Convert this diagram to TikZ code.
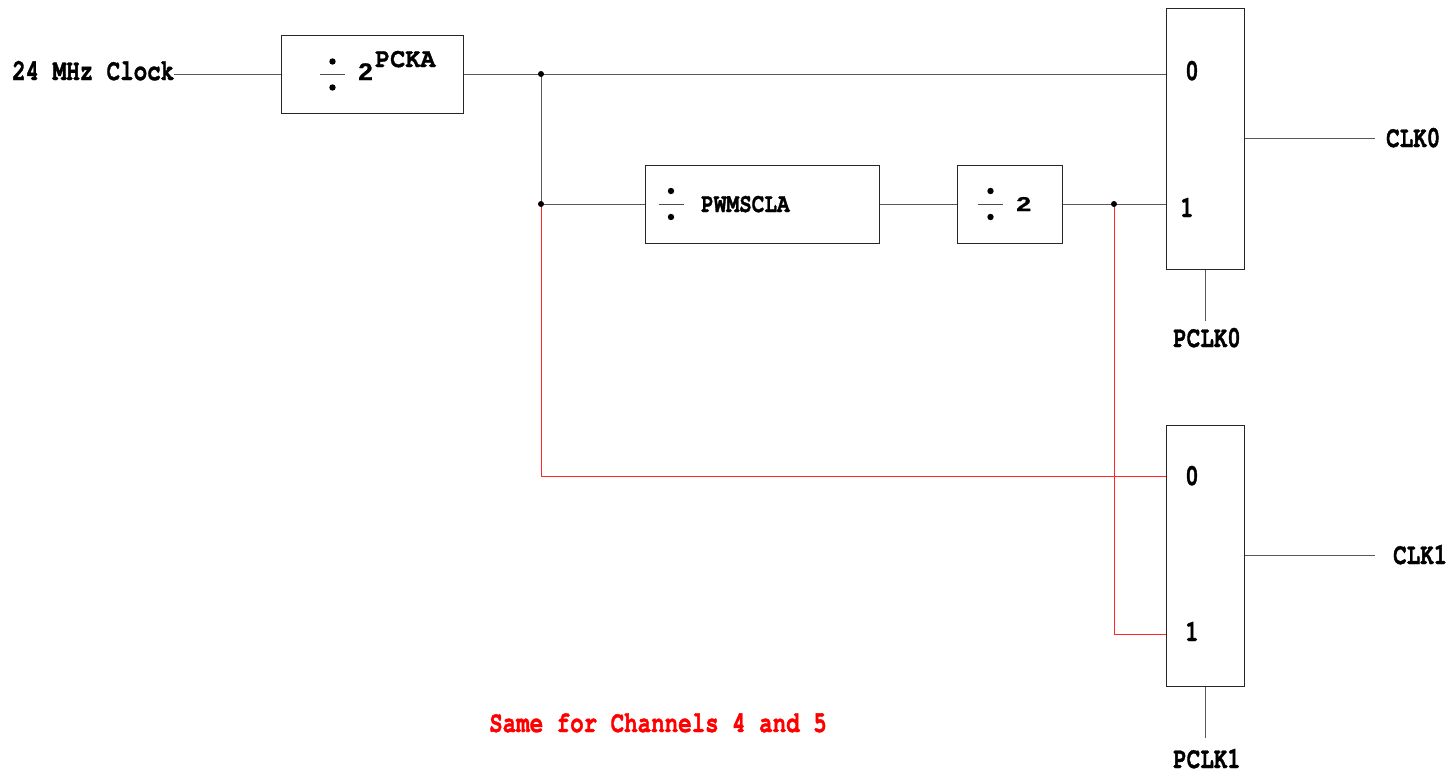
\documentclass[tikz,border=0pt]{standalone}
\usepackage{fontspec}
\usepackage{graphicx}
\newfontfamily\cf[FakeStretch=0.75,FakeBold=1.2]{TeX Gyre Cursor}
\newfontfamily\cfa[FakeStretch=0.93,FakeBold=1.2]{TeX Gyre Cursor}
\newfontfamily\cfb[FakeStretch=0.78,FakeBold=1.2]{TeX Gyre Cursor}
\newfontfamily\sansf[FakeBold=0.8]{Liberation Sans Bold}
\tikzset{
  wire/.style={draw=black!65, line width=1pt},
  rwire/.style={draw=red!85, line width=1pt},
  box/.style={draw=black!85, line width=1pt, inner sep=0pt, rectangle},
  jdot/.style={circle, fill=black, inner sep=0pt, minimum size=6pt},
  lbl/.style={inner sep=0pt, anchor=base west, font=\cf\bfseries\fontsize{30}{32}\selectfont},
  lblc/.style={inner sep=0pt, anchor=base, font=\cf\bfseries\fontsize{30}{32}\selectfont},
  divs/.pic={
    \draw[line width=1pt, black!70] (-12.5,0) -- (12.5,0);
    \fill[black] (0,-13) circle (3.2pt);
    \fill[black] (0,13) circle (3.2pt);
  }
}
\begin{document}
\begin{tikzpicture}[x=1pt, y=-1pt]
\useasboundingbox (0,0) rectangle (1452,774);
% boxes
\node[box, minimum width=182pt, minimum height=78pt] (b1) at (372,74) {};
\node[box, minimum width=234pt, minimum height=78pt] (b2) at (762,204) {};
\node[box, minimum width=105pt, minimum height=78pt] (b3) at (1009.5,204) {};
\node[box, minimum width=78pt, minimum height=261pt] (m0) at (1205,138.5) {};
\node[box, minimum width=78pt, minimum height=261pt] (m1) at (1205,555.5) {};
% division symbols
\pic at (332.5,74.5) {divs};
\pic at (671,204) {divs};
\pic at (990.5,204) {divs};
% box texts
\node[inner sep=0pt, anchor=base west, font=\sansf\fontsize{24}{26}\selectfont] (two1) at (358,80) {\scalebox{1.1}[1]{2}};
\node[inner sep=0pt, anchor=base west, font=\cfa\bfseries\fontsize{27}{28}\selectfont] (pcka) at (375,67) {PCKA};
\node[inner sep=0pt, anchor=base west, font=\cfb\bfseries\fontsize{27}{28}\selectfont] (pwm) at (701,212) {PWMSCLA};
\node[inner sep=0pt, anchor=base west, font=\sansf\fontsize{20}{24}\selectfont] (two3) at (1016,211) {\scalebox{1.35}[1]{2}};
% mux texts
\node[lbl] (m0a) at (1185,80) {0};
\node[lbl] (m0b) at (1180,217) {1};
\node[lbl] (m1a) at (1185,485) {0};
\node[lbl] (m1b) at (1185,641) {1};
% labels
\node[lbl] (clk) at (12,80) {24 MHz Clock};
\node[lbl] (clk0) at (1386,147) {CLK0};
\node[lbl] (clk1) at (1393,564) {CLK1};
\node[lblc] (pclk0) at (1207,347) {PCLK0};
\node[lblc] (pclk1) at (1207,768) {PCLK1};
\node[lbl, text=red] (same) at (489,732) {Same for Channels 4 and 5};
% free ends
\coordinate (o0) at (1375,138.5);
\coordinate (o1) at (1375,555.5);
\coordinate (p0) at (1205,321);
\coordinate (p1) at (1205,738);
\coordinate (j1) at (541,74);
\coordinate (j2) at (541,204);
\coordinate (j3) at (1114,204);
% wires
\draw[wire] (b1.west -| clk.east) -- (b1.west);
\draw[wire] (b1.east) -- (b1.east -| m0.west);
\draw[wire] (j1) -- (j2);
\draw[wire] (j2) -- (b2.west);
\draw[wire] (b2.east) -- (b3.west);
\draw[wire] (b3.east) -- (b3.east -| m0.west);
\draw[rwire] (j2) |- ([yshift=-52pt]m1.north west);
\draw[rwire] (j3) |- ([yshift=52pt]m1.south west);
\draw[wire] (m0.east) -- (o0);
\draw[wire] (m1.east) -- (o1);
\draw[wire] (m0.south) -- (p0);
\draw[wire] (m1.south) -- (p1);
% junction dots
\node[jdot] (d1) at (j1) {};
\node[jdot] (d2) at (j2) {};
\node[jdot] (d3) at (j3) {};
\end{tikzpicture}
\end{document}
